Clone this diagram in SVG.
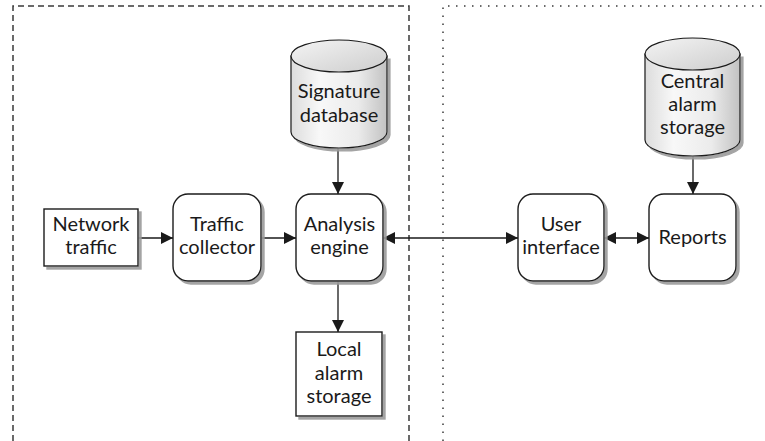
<svg xmlns="http://www.w3.org/2000/svg" width="765" height="441" viewBox="0 0 765 441">
  <style>
    .box { fill: #ffffff; stroke: #1a1a1a; stroke-width: 1.4; filter: url(#shadow); }
    .cyl { fill: url(#cylSide); stroke: #1a1a1a; stroke-width: 1.2; filter: url(#shadow); }
    .cylTop { fill: url(#cylTop); stroke: #1a1a1a; stroke-width: 1.2; }
    .label { font-family: Lato, "Liberation Sans", sans-serif; font-size: 20px; fill: #1a1a1a; text-anchor: middle; }
    .link { stroke: #1a1a1a; stroke-width: 1.3; fill: none; }
    .zoneDash { stroke: #3a3a3a; stroke-width: 1.5; fill: none; stroke-dasharray: 6 4; }
    .zoneDot { stroke: #3a3a3a; stroke-width: 1.5; fill: none; stroke-dasharray: 1.5 6.5; }
  </style>
  <defs>
    <filter id="shadow" x="-10%" y="-10%" width="130%" height="130%">
      <feDropShadow dx="3" dy="3" stdDeviation="0.7" flood-color="#9a9a9a" flood-opacity="0.9"/>
    </filter>
    <linearGradient id="cylSide" x1="0" y1="0" x2="1" y2="0">
      <stop offset="0" stop-color="#dcdcdc"/>
      <stop offset="0.3" stop-color="#f8f8f8"/>
      <stop offset="0.7" stop-color="#ebebeb"/>
      <stop offset="1" stop-color="#c2c2c2"/>
    </linearGradient>
    <linearGradient id="cylTop" x1="0" y1="0" x2="1" y2="1">
      <stop offset="0" stop-color="#f4f4f4"/>
      <stop offset="1" stop-color="#cdcdcd"/>
    </linearGradient>
    <marker id="arrow" viewBox="0 0 12 12" markerWidth="12" markerHeight="12" refX="12" refY="6" markerUnits="userSpaceOnUse" orient="auto-start-reverse">
      <path d="M0,0 L12,6 L0,12 z" fill="#1a1a1a"/>
    </marker>
  </defs>

  <!-- zone boundaries -->
  <g id="zones">
    <path class="zoneDash" d="M13,441 V6 H409 V441"/>
    <path class="zoneDot" d="M443,441 V6 H765"/>
  </g>

  <!-- connectors -->
  <g id="connectors">
    <line class="link" x1="138" y1="238" x2="173" y2="238" marker-end="url(#arrow)"/>
    <line class="link" x1="261" y1="238" x2="296" y2="238" marker-end="url(#arrow)"/>
    <line class="link" x1="338" y1="148" x2="338" y2="194" marker-end="url(#arrow)"/>
    <line class="link" x1="338" y1="281" x2="338" y2="332" marker-end="url(#arrow)"/>
    <line class="link" x1="383" y1="238" x2="518" y2="238" marker-start="url(#arrow)" marker-end="url(#arrow)"/>
    <line class="link" x1="604" y1="238" x2="649" y2="238" marker-start="url(#arrow)" marker-end="url(#arrow)"/>
    <line class="link" x1="693" y1="156" x2="693" y2="194" marker-end="url(#arrow)"/>
  </g>

  <g id="network-traffic">
    <rect class="box" x="44" y="209" width="94" height="57"/>
    <text class="label" x="91" y="231">Network</text>
    <text class="label" x="91" y="254">traffic</text>
  </g>

  <g id="traffic-collector">
    <rect class="box" x="173" y="194" width="88" height="87" rx="15"/>
    <text class="label" x="217" y="231">Traffic</text>
    <text class="label" x="217" y="254">collector</text>
  </g>

  <g id="analysis-engine">
    <rect class="box" x="296" y="194" width="87" height="87" rx="15"/>
    <text class="label" x="339.5" y="231">Analysis</text>
    <text class="label" x="339.5" y="254">engine</text>
  </g>

  <g id="signature-database">
    <path class="cyl" d="M291,56 V132 A48,16 0 0 0 387,132 V56 z"/>
    <ellipse class="cylTop" cx="339" cy="56" rx="48" ry="16"/>
    <text class="label" x="339" y="98">Signature</text>
    <text class="label" x="339" y="122">database</text>
  </g>

  <g id="local-alarm-storage">
    <rect class="box" x="296" y="332" width="86" height="84"/>
    <text class="label" x="339" y="356">Local</text>
    <text class="label" x="339" y="380">alarm</text>
    <text class="label" x="339" y="403">storage</text>
  </g>

  <g id="user-interface">
    <rect class="box" x="518" y="194" width="86" height="87" rx="15"/>
    <text class="label" x="561" y="231">User</text>
    <text class="label" x="561" y="254">interface</text>
  </g>

  <g id="reports">
    <rect class="box" x="649" y="194" width="87" height="87" rx="15"/>
    <text class="label" x="692.5" y="244">Reports</text>
  </g>

  <g id="central-alarm-storage">
    <path class="cyl" d="M645,54 V140 A47.5,16 0 0 0 740,140 V54 z"/>
    <ellipse class="cylTop" cx="692.5" cy="54" rx="47.5" ry="16"/>
    <text class="label" x="692.5" y="88">Central</text>
    <text class="label" x="692.5" y="111">alarm</text>
    <text class="label" x="692.5" y="134">storage</text>
  </g>
</svg>
